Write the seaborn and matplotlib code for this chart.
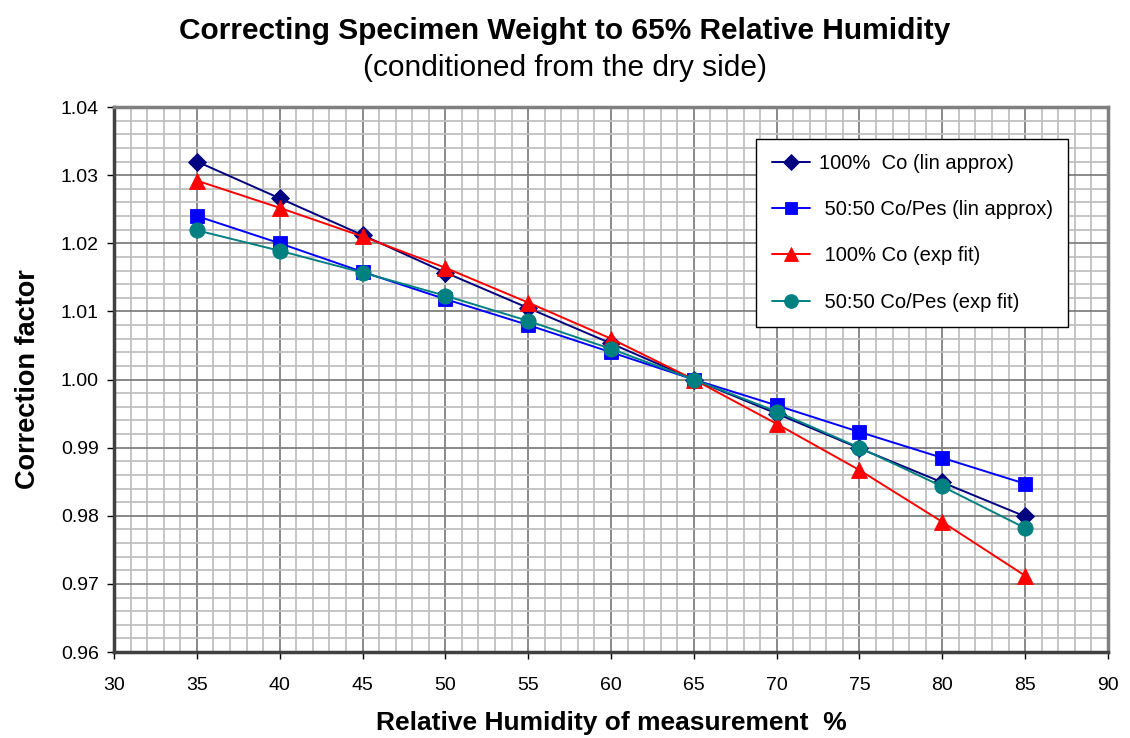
import matplotlib
matplotlib.use("Agg")
import matplotlib.pyplot as plt
import seaborn as sns
import pandas as pd
import numpy as np
from matplotlib.ticker import MultipleLocator, FormatStrFormatter

rh = [35, 40, 45, 50, 55, 60, 65, 70, 75, 80, 85]
co_lin = [1.0320, 1.0266, 1.0212, 1.0157, 1.0105, 1.0053, 1.0000, 0.9950, 0.9899, 0.9849, 0.9799]
cp_lin = [1.0240, 1.0200, 1.0158, 1.0118, 1.0080, 1.0040, 1.0000, 0.9962, 0.9923, 0.9885, 0.9847]
co_exp = [1.0292, 1.0252, 1.0210, 1.0164, 1.0113, 1.0060, 1.0000, 0.9935, 0.9867, 0.9791, 0.9712]
cp_exp = [1.0219, 1.0189, 1.0157, 1.0123, 1.0086, 1.0045, 1.0000, 0.9953, 0.9900, 0.9843, 0.9782]

names = ["100%  Co (lin approx)", " 50:50 Co/Pes (lin approx)", " 100% Co (exp fit)", " 50:50 Co/Pes (exp fit)"]
series = [co_lin, cp_lin, co_exp, cp_exp]
colors = ["#000080", "#0000FF", "#FF0000", "#008080"]
markers = ["D", "s", "^", "o"]
msizes = [9.5, 10, 11.5, 11]

df = pd.concat([pd.DataFrame({"RH": rh, "factor": v, "series": n}) for n, v in zip(names, series)],
               ignore_index=True)

sns.set_style("white")
plt.rcParams['font.family'] = ['Liberation Sans', 'DejaVu Sans']
plt.rcParams['text.color'] = 'black'
plt.rcParams['axes.labelcolor'] = 'black'
plt.rcParams['xtick.color'] = 'black'
plt.rcParams['ytick.color'] = 'black'

fig = plt.figure(figsize=(11.3, 7.38), dpi=100)
ax = fig.add_axes([0.1009, 0.1165, 0.8796, 0.7385])

sns.lineplot(data=df, x="RH", y="factor", hue="series", style="series",
             hue_order=names, style_order=names,
             palette=dict(zip(names, colors)), markers=dict(zip(names, markers)),
             dashes=False, markersize=10, linewidth=1.4, markeredgewidth=0.6,
             ax=ax, zorder=3)
for line, ms in zip(ax.lines, msizes):
    line.set_markeredgecolor(line.get_color())
    line.set_markersize(ms)

ax.set_xlim(30, 90)
ax.set_ylim(0.96, 1.04)
ax.xaxis.set_major_locator(MultipleLocator(5))
ax.xaxis.set_minor_locator(MultipleLocator(1))
ax.yaxis.set_major_locator(MultipleLocator(0.01))
ax.yaxis.set_minor_locator(MultipleLocator(0.002))
ax.yaxis.set_major_formatter(FormatStrFormatter('%.2f'))
ax.grid(which='minor', color='#c0c0c0', linewidth=1.3, zorder=0)
ax.grid(which='major', color='#808080', linewidth=1.3, zorder=1)
ax.set_axisbelow(True)

for s in ['top', 'right']:
    ax.spines[s].set_color('#808080')
    ax.spines[s].set_linewidth(2.5)
for s in ['left', 'bottom']:
    ax.spines[s].set_color('#404040')
    ax.spines[s].set_linewidth(2.5)

ax.tick_params(axis='both', which='major', direction='out', length=5, width=1,
               color='black', labelcolor='black', labelsize=14, left=True, bottom=True)
ax.tick_params(axis='x', which='major', pad=13)
ax.tick_params(axis='y', which='major', pad=6)
ax.tick_params(axis='both', which='minor', length=0)

ax.set_xlabel("Relative Humidity of measurement  %", fontsize=19, fontweight='bold',
              labelpad=12, color='black')
ax.set_ylabel("Correction factor", fontsize=19.5, fontweight='bold', labelpad=14, color='black')

fig.text(0.5, 0.958, "Correcting Specimen Weight to 65% Relative Humidity",
         ha='center', va='center', fontsize=21.5, fontweight='bold', color='black')
fig.text(0.5, 0.908, "(conditioned from the dry side)",
         ha='center', va='center', fontsize=21.5, color='black')

leg = ax.legend(loc='upper right', bbox_to_anchor=(0.9598, 0.9413), fontsize=14.5,
                frameon=True, fancybox=False, edgecolor='black', framealpha=1,
                labelspacing=1.35, handlelength=1.9, borderpad=0.75, handletextpad=0.45,
                borderaxespad=0)
leg.get_frame().set_linewidth(1.0)
for h, ms in zip(leg.get_lines(), msizes):
    h.set_markersize(ms * 0.9)
    h.set_markeredgecolor(h.get_color())
for t in leg.get_texts():
    t.set_color('black')

fig.savefig("out.png", dpi=100, facecolor='white')
